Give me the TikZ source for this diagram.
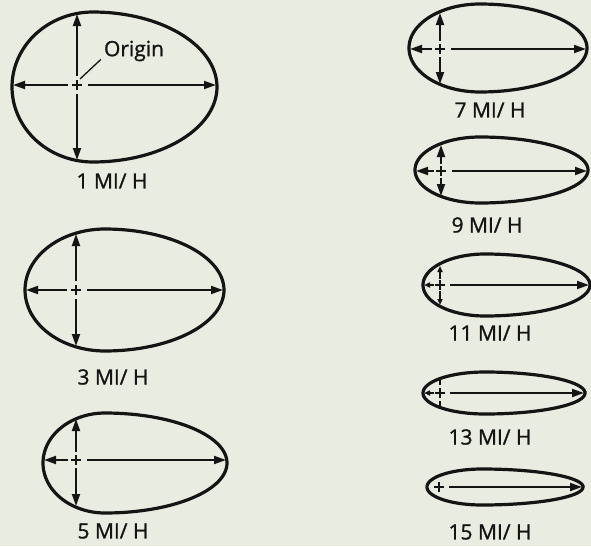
\documentclass[tikz,border=0pt]{standalone}
\usepackage{fontspec}
\setmainfont{Open Sans}
\newfontfamily\lblfont{Open Sans}[FakeBold=1.2]
\usetikzlibrary{arrows.meta}
\definecolor{bg}{RGB}{233,236,225}
\definecolor{ink}{RGB}{20,20,20}
\tikzset{
  eggline/.style={draw=ink,line width=3.2pt},
  arr/.style={draw=ink,line width=1.9pt,-{Triangle[length=12pt,width=8pt]}},
  sarr/.style={draw=ink,line width=1.5pt,-{Triangle[length=6pt,width=5pt]}},
  crossline/.style={draw=ink,line width=1.5pt},
  lbl/.style={text=ink,font=\lblfont\fontsize{21}{21}\selectfont,inner sep=0pt},
}
\newcommand\eggshape[5]{%
  \draw[eggline] plot[domain=0:360,samples=140,variable=\t]
    ({#1+((cos(\t)<0)?#3:#4)*cos(\t)},{#2+#5*sin(\t)}) -- cycle;}
\newcommand\originmark[1]{%
  \draw[crossline] ([xshift=-5pt]#1) -- ([xshift=5pt]#1);
  \draw[crossline] ([yshift=-5pt]#1) -- ([yshift=5pt]#1);}
\begin{document}
\begin{tikzpicture}[x=1pt,y=-1pt]
\fill[bg] (0,0) rectangle (591,546);
\useasboundingbox (0,0) rectangle (591,546);

% 1 MI/H
\eggshape{93}{87}{81}{124}{75}
\coordinate (o1) at (77,85);
\coordinate (l1) at (13,85);
\coordinate (r1) at (216,85);
\coordinate (t1) at (77,14);
\coordinate (b1) at (77,160);
\originmark{o1}
\draw[arr] ([xshift=-9pt]o1) -- (l1);
\draw[arr] ([xshift=11pt]o1) -- (r1);
\draw[arr] ([yshift=9pt]o1) -- (t1);
\draw[arr] ([yshift=-9pt]o1) -- (b1);
\node[lbl] (origin) at (134,51) {Origin};
\coordinate (lead) at (80,79);
\draw[crossline,line width=1.3pt] (lead) -- ([xshift=-3pt,yshift=2pt]origin.south west);
\node[lbl] (n1) at (112,181) {1 MI/ H};

% 3 MI/H
\eggshape{105}{290}{80}{119}{61}
\coordinate (o3) at (76,290);
\coordinate (l3) at (26,290);
\coordinate (r3) at (223,290);
\coordinate (t3) at (76,234);
\coordinate (b3) at (76,346);
\originmark{o3}
\draw[arr] ([xshift=-9pt]o3) -- (l3);
\draw[arr] ([xshift=11pt]o3) -- (r3);
\draw[arr] ([yshift=9pt]o3) -- (t3);
\draw[arr] ([yshift=-9pt]o3) -- (b3);
\node[lbl] (n3) at (113,377) {3 MI/ H};

% 5 MI/H
\eggshape{105}{463}{62}{122}{50}
\coordinate (o5) at (76,460);
\coordinate (l5) at (44,460);
\coordinate (r5) at (226,460);
\coordinate (t5) at (76,419);
\coordinate (b5) at (76,506);
\originmark{o5}
\draw[arr] ([xshift=-8pt]o5) -- (l5);
\draw[arr] ([xshift=11pt]o5) -- (r5);
\draw[arr] ([yshift=8pt]o5) -- (t5);
\draw[arr] ([yshift=-8pt]o5) -- (b5);
\node[lbl] (n5) at (113,531) {5 MI/ H};

% 7 MI/H
\eggshape{480}{48}{71}{107}{44}
\coordinate (o7) at (440,49);
\coordinate (l7) at (410,49);
\coordinate (r7) at (586,49);
\coordinate (t7) at (440,13);
\coordinate (b7) at (440,84);
\originmark{o7}
\draw[arr] ([xshift=-8pt]o7) -- (l7);
\draw[arr] ([xshift=11pt]o7) -- (r7);
\draw[arr] ([yshift=8pt]o7) -- (t7);
\draw[arr] ([yshift=-8pt]o7) -- (b7);
\node[lbl] (n7) at (490,110) {7 MI/ H};

% 9 MI/H
\eggshape{480}{170}{65}{108}{33}
\coordinate (o9) at (441,171);
\coordinate (l9) at (416,171);
\coordinate (r9) at (587,171);
\coordinate (t9) at (441,145);
\coordinate (b9) at (441,196);
\originmark{o9}
\draw[arr] ([xshift=-7pt]o9) -- (l9);
\draw[arr] ([xshift=11pt]o9) -- (r9);
\draw[arr] ([yshift=7pt]o9) -- (t9);
\draw[arr] ([yshift=-7pt]o9) -- (b9);
\node[lbl] (n9) at (487,225) {9 MI/ H};

% 11 MI/H
\eggshape{485}{285}{62}{105}{31}
\coordinate (o11) at (440,285);
\coordinate (l11) at (424,285);
\coordinate (r11) at (589,285);
\coordinate (t11) at (440,266);
\coordinate (b11) at (440,305);
\originmark{o11}
\draw[sarr] ([xshift=-6pt]o11) -- (l11);
\draw[arr] ([xshift=10pt]o11) -- (r11);
\draw[sarr] ([yshift=6pt]o11) -- (t11);
\draw[sarr] ([yshift=-6pt]o11) -- (b11);
\node[lbl] (n11) at (490,333) {11 MI/ H};

% 13 MI/H
\eggshape{485}{393}{62}{100}{21}
\coordinate (o13) at (440,393);
\coordinate (l13) at (424,393);
\coordinate (r13) at (584,393);
\coordinate (t13) at (440,379);
\coordinate (b13) at (440,407);
\originmark{o13}
\draw[sarr] ([xshift=-6pt]o13) -- (l13);
\draw[arr] ([xshift=10pt]o13) -- (r13);
\draw[crossline] ([yshift=8pt]o13) -- (t13);
\draw[crossline] ([yshift=-8pt]o13) -- (b13);
\node[lbl] (n13) at (490,437) {13 MI/ H};

% 15 MI/H
\eggshape{482}{487}{55}{101}{18}
\coordinate (o15) at (439,487);
\coordinate (r15) at (582,487);
\originmark{o15}
\draw[arr] ([xshift=10pt]o15) -- (r15);
\node[lbl] (n15) at (490,532) {15 MI/ H};
\end{tikzpicture}
\end{document}
